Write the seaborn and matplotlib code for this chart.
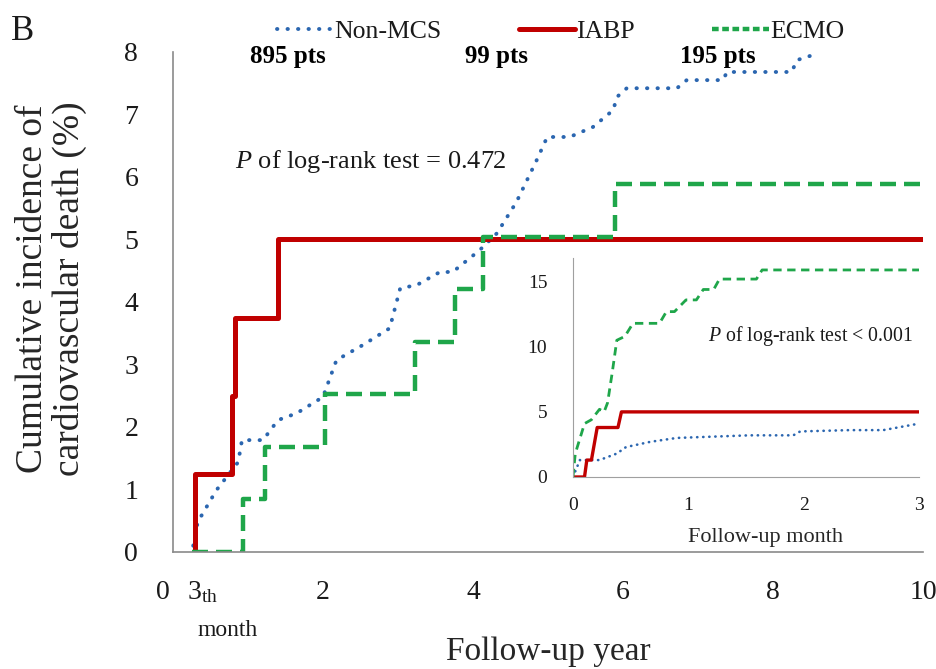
import pandas as pd
import matplotlib.pyplot as plt
import seaborn as sns
from matplotlib.lines import Line2D

# main panel: follow-up year (from 3rd month) vs cumulative incidence (%)
nonmcs_year = [0.27, 0.33, 0.58, 0.87, 0.92, 1.20, 1.40, 1.65, 2.00, 2.18, 2.53, 2.89, 3.03,
               3.25, 3.56, 3.73, 4.09, 4.32, 4.58, 4.85, 4.99, 5.29, 5.60, 5.87, 5.92, 6.05,
               6.72, 6.85, 7.33, 7.39, 8.25, 8.32, 8.53]
nonmcs_pct = [0.10, 0.48, 0.99, 1.44, 1.79, 1.79, 2.11, 2.22, 2.48, 3.07, 3.31, 3.58, 4.22,
              4.27, 4.48, 4.48, 4.83, 5.10, 5.60, 6.27, 6.64, 6.64, 6.80, 7.07, 7.28, 7.42,
              7.42, 7.55, 7.55, 7.68, 7.68, 7.87, 7.95]
iabp_year = [0.29, 0.29, 0.79, 0.83, 1.40, 10.0]
iabp_pct = [0.0, 1.25, 2.50, 3.75, 5.00, 5.00]
ecmo_year = [0.25, 0.93, 1.23, 2.03, 3.23, 3.76, 4.14, 5.89, 10.0]
ecmo_pct = [0.0, 0.84, 1.68, 2.52, 3.36, 4.20, 5.04, 5.88, 5.88]

# inset: first 3 months
nonmcs_month = [0, 0.06, 0.23, 0.38, 0.46, 0.67, 0.90, 1.53, 1.91, 1.97, 2.40, 2.69, 3.0]
nonmcs_mpct = [0, 1.3, 1.3, 1.8, 2.3, 2.7, 3.0, 3.2, 3.2, 3.5, 3.6, 3.6, 4.1]
iabp_month = [0, 0.10, 0.12, 0.16, 0.21, 0.39, 0.42, 3.0]
iabp_mpct = [0, 0, 1.3, 1.3, 3.8, 3.8, 5.0, 5.0]
ecmo_month = [0, 0.02, 0.10, 0.16, 0.23, 0.27, 0.30, 0.34, 0.38, 0.45, 0.52, 0.75, 0.81,
              0.88, 0.98, 1.07, 1.13, 1.22, 1.27, 1.59, 1.64, 3.0]
ecmo_mpct = [0, 1.8, 4.1, 4.4, 5.2, 5.0, 5.7, 8.0, 10.5, 10.8, 11.8, 11.8, 12.7, 12.7,
             13.6, 13.6, 14.4, 14.4, 15.2, 15.2, 15.9, 15.9]

groups = ["Non-MCS", "IABP", "ECMO"]
n_pts = ["895 pts", "99 pts", "195 pts"]

BLUE, RED, GREEN = "#2B66B0", "#C00000", "#1FA64A"
TXT = "#1a1a1a"

sns.set_style("white")
plt.rcParams["font.family"] = ["Liberation Serif", "DejaVu Serif"]
plt.rcParams["mathtext.fontset"] = "custom"
plt.rcParams["mathtext.rm"] = "Liberation Serif"
plt.rcParams["mathtext.it"] = "Liberation Serif:italic"
plt.rcParams["text.color"] = TXT

fig = plt.figure(figsize=(9.37, 6.69), dpi=100)
ax = fig.add_axes([0.1846, 0.1749, 0.8004, 0.7474])

dot = dict(color=BLUE, lw=2.8, linestyle=(0, (0.1, 2.6)), dash_capstyle="round")
sns.lineplot(x=nonmcs_year, y=nonmcs_pct, ax=ax, estimator=None, sort=False, **dot)
sns.lineplot(x=iabp_year, y=iabp_pct, ax=ax, estimator=None, sort=False,
             drawstyle="steps-post", color=RED, lw=3.6)
sns.lineplot(x=ecmo_year, y=ecmo_pct, ax=ax, estimator=None, sort=False,
             drawstyle="steps-post", color=GREEN, lw=3.2, linestyle=(0, (3.6, 1.8)))

ax.set_xlim(0, 10)
ax.set_ylim(0, 8)
ax.set_xticks([0, 2, 4, 6, 8, 10])
ax.set_xticklabels(["", "2", "4", "6", "8", "10"])
ax.set_yticks(range(9))
sns.despine(ax=ax)
for s in ["left", "bottom"]:
    ax.spines[s].set_color("#8a8a8a")
    ax.spines[s].set_linewidth(1.2)
ax.tick_params(axis="y", direction="out", length=7, color="#8a8a8a", labelsize=20,
               pad=18, labelcolor=TXT)
ax.tick_params(axis="x", direction="inout", length=8, color="#8a8a8a", labelsize=20,
               pad=16, labelcolor=TXT)
ax.set_xlabel("Follow-up year", fontsize=24)
ax.xaxis.set_label_coords(0.5, -0.17)
ax.set_ylabel("Cumulative incidence of\ncardiovascular death (%)", fontsize=27,
              linespacing=1.05)
ax.yaxis.set_label_coords(-0.115, 0.527)
ax.text(-0.13, -0.65, "0", fontsize=20, ha="center", va="center")
ax.text(0.40, -0.65, r"3$_{\mathrm{th}}$", fontsize=20, ha="center", va="center")
ax.text(0.73, -1.25, "month", fontsize=17, ha="center", va="center")
ax.text(0.83, 6.24, r"$P$ of log-rank test = 0.472", fontsize=19, ha="left", va="center")

# inset
ins = fig.add_axes([0.6115, 0.287, 0.3693, 0.327])
sns.lineplot(x=nonmcs_month, y=nonmcs_mpct, ax=ins, estimator=None, sort=False,
             color=BLUE, lw=1.9, linestyle=(0, (0.1, 2.2)), dash_capstyle="round")
sns.lineplot(x=iabp_month, y=iabp_mpct, ax=ins, estimator=None, sort=False, color=RED, lw=2.4)
sns.lineplot(x=ecmo_month, y=ecmo_mpct, ax=ins, estimator=None, sort=False,
             color=GREEN, lw=2.0, linestyle=(0, (3.0, 2.0)))
ins.set_xlim(0, 3)
ins.set_ylim(0, 16.8)
ins.set_xticks([0, 1, 2, 3])
ins.set_yticks([0, 5, 10, 15])
sns.despine(ax=ins)
for s in ["left", "bottom"]:
    ins.spines[s].set_color("#a0a0a0")
ins.tick_params(axis="both", direction="inout", length=5, color="#b0b0b0", labelsize=14,
                labelcolor=TXT)
ins.tick_params(axis="y", pad=16)
ins.tick_params(axis="x", pad=12)
ins.set_xlabel("Follow-up month", fontsize=16)
ins.xaxis.set_label_coords(0.555, -0.235)
ins.text(1.17, 10.8, r"$P$ of log-rank test < 0.001", fontsize=14.3, ha="left", va="center")

# legend + patient counts
handles = [Line2D([], [], **dot),
           Line2D([], [], color=RED, lw=3.6),
           Line2D([], [], color=GREEN, lw=3.2, linestyle=(0, (1.5, 0.8)))]
fig.legend(handles, groups, loc="center", bbox_to_anchor=(0.598, 0.953), ncol=3,
           frameon=False, fontsize=18.5, handlelength=2.2, handletextpad=0.05,
           columnspacing=3.0)
for xf, t in zip([0.307, 0.530, 0.766], n_pts):
    fig.text(xf, 0.915, t, fontsize=18, fontweight="bold", ha="center", va="center",
             color="black")
fig.text(0.012, 0.953, "B", fontsize=25, ha="left", va="center")

fig.savefig("out.png", dpi=100)
